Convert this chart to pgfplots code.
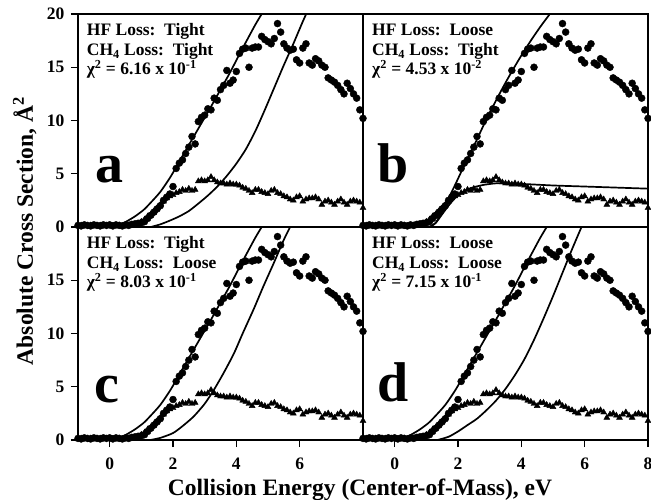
\documentclass[border=0pt]{standalone}
\usepackage{fontspec}
\setmainfont{Liberation Serif}
\usepackage{pgfplots}
\pgfplotsset{compat=1.18}
\usepackage{pgfplotstable}
\usepgfplotslibrary{groupplots}
\usetikzlibrary{calc}

% experimental cross sections (same in all four panels)
\pgfplotstableread{
E s
-1.0 0.15
-0.9 0.1
-0.8 0.2
-0.7 0.15
-0.6 0.1
-0.5 0.2
-0.4 0.15
-0.3 0.1
-0.2 0.2
-0.1 0.15
0.0 0.2
0.1 0.1
0.2 0.2
0.3 0.15
0.4 0.1
0.5 0.2
0.6 0.15
0.7 0.25
0.8 0.3
0.9 0.35
1.0 0.4
1.1 0.5
1.2 0.8
1.3 1.1
1.4 1.4
1.5 1.7
1.6 2.0
1.7 2.5
1.8 2.8
1.9 3.1
2.0 3.8
2.1 5.5
2.2 6.0
2.3 6.3
2.4 6.9
2.5 7.5
2.6 8.5
2.7 7.8
2.8 9.9
2.9 10.3
3.0 10.5
3.1 11.1
3.2 11.0
3.3 12.1
3.4 11.9
3.5 12.9
3.6 13.3
3.7 14.7
3.8 13.5
3.9 13.8
4.0 14.6
4.1 16.3
4.2 16.7
4.3 16.8
4.4 15.0
4.5 16.8
4.6 16.9
4.7 16.9
4.8 17.9
4.9 17.6
5.0 17.4
5.1 17.2
5.2 17.7
5.3 19.1
5.4 18.3
5.5 17.2
5.6 16.8
5.7 16.6
5.8 16.7
5.9 15.7
6.0 15.4
6.1 16.8
6.2 17.2
6.3 15.4
6.4 15.2
6.5 15.8
6.6 15.6
6.7 15.2
6.8 15.0
6.9 14.0
7.0 13.8
7.1 13.6
7.2 13.3
7.3 12.9
7.4 12.5
7.5 13.5
7.6 13.0
7.7 12.5
7.8 12.1
7.9 11.0
8.0 10.2
}\hfloss

\pgfplotstableread{
E s
-1.0 0.1
-0.9 0.15
-0.8 0.1
-0.7 0.1
-0.6 0.15
-0.5 0.1
-0.4 0.1
-0.3 0.15
-0.2 0.1
-0.1 0.1
0.0 0.15
0.1 0.1
0.2 0.1
0.3 0.15
0.4 0.1
0.5 0.15
0.6 0.1
0.7 0.15
0.8 0.2
0.9 0.3
1.0 0.5
1.1 0.7
1.2 1.0
1.3 1.2
1.4 1.5
1.5 1.8
1.6 2.1
1.7 2.4
1.8 2.7
1.9 2.9
2.0 3.0
2.1 3.2
2.2 3.3
2.3 3.5
2.4 3.4
2.5 3.6
2.6 3.4
2.7 3.5
2.8 4.3
2.9 4.4
3.0 4.3
3.1 4.4
3.2 4.7
3.3 4.4
3.4 4.2
3.5 4.1
3.6 4.1
3.7 4.0
3.8 4.1
3.9 4.0
4.0 4.0
4.1 3.9
4.2 3.7
4.3 3.6
4.4 3.4
4.5 3.2
4.6 3.5
4.7 3.5
4.8 3.3
4.9 3.2
5.0 3.1
5.1 3.4
5.2 3.5
5.3 3.2
5.4 3.1
5.5 2.9
5.6 2.8
5.7 2.6
5.8 2.5
5.9 2.8
6.0 2.9
6.1 2.4
6.2 2.6
6.3 2.7
6.4 2.7
6.5 2.8
6.6 2.6
6.7 2.1
6.8 2.4
6.9 2.5
7.0 2.3
7.1 2.1
7.2 2.4
7.3 2.6
7.4 2.3
7.5 2.1
7.6 2.4
7.7 2.5
7.8 2.4
7.9 2.3
8.0 1.8
}\chfloss

% model curves
\pgfplotstableread{
E s
0.0 0
0.3 0.15
0.55 0.55
0.8 1.0
1.07 1.6
1.3 2.3
1.6 3.3
1.92 4.7
2.23 6.3
2.55 7.95
2.87 9.6
3.2 11.3
3.5 12.9
3.8 14.5
4.13 16.4
4.4 17.9
4.6 19.0
4.82 20.1
}\fitA

\pgfplotstableread{
E s
1.3 0
1.6 0.25
1.9 0.6
2.2 1.0
2.5 1.5
2.8 2.2
3.1 2.95
3.4 3.8
3.7 4.8
4.0 5.95
4.3 7.3
4.6 9.0
4.9 11.0
5.2 13.1
5.5 15.2
5.8 17.2
6.1 19.3
6.3 20.6
}\fitAb

\pgfplotstableread{
E s
1.1 0
1.3 0.4
1.5 1.5
1.7 2.7
1.9 3.9
2.2 5.8
2.5 7.6
2.8 9.5
3.1 11.3
3.4 13.0
3.7 14.6
4.0 16.1
4.3 17.5
4.6 18.8
4.9 20.0
5.0 20.4
}\fitB

\pgfplotstableread{
E s
1.1 0
1.3 0.4
1.5 1.2
1.7 2.0
1.9 2.7
2.1 3.2
2.4 3.65
2.8 3.95
3.2 4.1
3.6 4.1
4.0 4.05
5.0 3.9
6.0 3.8
7.0 3.7
8.0 3.6
}\fitBb

\pgfplotstableread{
E s
1.28 0
1.6 0.2
2.0 0.65
2.3 1.3
2.65 2.2
3.0 3.4
3.29 4.7
3.6 6.3
3.92 8.1
4.2 10.0
4.55 12.3
4.85 14.4
5.18 16.6
5.5 18.8
5.75 20.3
}\fitCb

\pgfplotstableread{
E s
1.35 0
1.7 0.3
2.0 0.8
2.3 1.4
2.6 2.0
2.9 2.8
3.2 3.7
3.5 4.8
3.8 6.1
4.1 7.6
4.4 9.4
4.7 11.4
5.0 13.5
5.3 15.7
5.6 17.9
5.9 20.0
6.0 20.7
}\fitDb

\newcommand\ft{\fontsize{17.5}{19}\selectfont\bfseries}
\newcommand\lf{\fontsize{56}{56}\selectfont\bfseries}

\pgfplotsset{
  dat/.style={only marks, mark=*, mark size=3.5pt, black},
  tri/.style={only marks, mark=triangle*, mark size=3.4pt, black},
  fit/.style={black, line width=1.7pt, smooth, tension=0.4, mark=none},
}

\begin{document}
\begin{tikzpicture}
\begin{groupplot}[
  group style={group size=2 by 2, horizontal sep=0pt, vertical sep=0pt},
  scale only axis, width=285pt, height=213pt,
  xmin=-1, xmax=8, ymin=0, ymax=20,
  axis on top,
  axis line style={line width=2pt},
  tick align=outside, major tick length=7pt,
  tick style={line width=1.3pt, black},
  /pgf/number format/assume math mode=true,
  ticklabel style={font=\fontsize{17.5}{17.5}\selectfont\bfseries},
  xticklabel style={yshift=-7pt},
  yticklabel style={xshift=-3pt},
  every node/.append style={inner sep=0pt},
]
% a
\nextgroupplot[xtick=\empty, ytick={0,5,10,15,20}, ytick pos=left]
\addplot[dat] table {\hfloss};
\addplot[tri] table {\chfloss};
\addplot[fit] table {\fitA};
\addplot[fit] table {\fitAb};
\node[anchor=base west, font=\ft] at (axis cs:-0.83,17.95) {HF Loss:\ \ Tight};
\node[anchor=base west, font=\ft] at (axis cs:-0.83,16.1) {CH\textsubscript{4} Loss:\ \ Tight};
\node[anchor=base west, font=\ft] at (axis cs:-0.83,14.3) {χ\textsuperscript{2} = 6.16 x 10\textsuperscript{-1}};
\node[anchor=base west, font=\lf] at (axis cs:-0.56,4.2) {a};
% b
\nextgroupplot[xtick=\empty, ytick=\empty]
\addplot[dat] table {\hfloss};
\addplot[tri] table {\chfloss};
\addplot[fit] table {\fitB};
\addplot[fit] table {\fitBb};
\node[anchor=base west, font=\ft] at (axis cs:-0.82,17.95) {HF Loss:\ \ Loose};
\node[anchor=base west, font=\ft] at (axis cs:-0.82,16.1) {CH\textsubscript{4} Loss:\ \ Tight};
\node[anchor=base west, font=\ft] at (axis cs:-0.82,14.3) {χ\textsuperscript{2} = 4.53 x 10\textsuperscript{-2}};
\node[anchor=base west, font=\lf] at (axis cs:-0.64,4.2) {b};
% c
\nextgroupplot[xtick={0,2,4,6}, xtick pos=bottom, ytick={0,5,10,15}, ytick pos=left]
\addplot[dat] table {\hfloss};
\addplot[tri] table {\chfloss};
\addplot[fit] table {\fitA};
\addplot[fit] table {\fitCb};
\node[anchor=base west, font=\ft] at (axis cs:-0.83,17.95) {HF Loss:\ \ Tight};
\node[anchor=base west, font=\ft] at (axis cs:-0.83,16.1) {CH\textsubscript{4} Loss:\ \ Loose};
\node[anchor=base west, font=\ft] at (axis cs:-0.83,14.3) {χ\textsuperscript{2} = 8.03 x 10\textsuperscript{-1}};
\node[anchor=base west, font=\lf] at (axis cs:-0.59,3.55) {c};
% d
\nextgroupplot[xtick={0,2,4,6,8}, xtick pos=bottom, ytick=\empty]
\addplot[dat] table {\hfloss};
\addplot[tri] table {\chfloss};
\addplot[fit] table {\fitA};
\addplot[fit] table {\fitDb};
\node[anchor=base west, font=\ft] at (axis cs:-0.82,17.95) {HF Loss:\ \ Loose};
\node[anchor=base west, font=\ft] at (axis cs:-0.82,16.1) {CH\textsubscript{4} Loss:\ \ Loose};
\node[anchor=base west, font=\ft] at (axis cs:-0.82,14.3) {χ\textsuperscript{2} = 7.15 x 10\textsuperscript{-1}};
\node[anchor=base west, font=\lf] at (axis cs:-0.64,3.6) {d};
\end{groupplot}
% axis titles, placed in image pixels relative to the top left panel corner (78,14)
\coordinate (O) at (group c1r1.north west);
\node[rotate=90, anchor=base, inner sep=0pt, font=\fontsize{23.5}{24}\selectfont\bfseries]
  at ($(O)+(-45pt,-217pt)$) {Absolute Cross Section, Å\textsuperscript{2}};
\node[anchor=base, inner sep=0pt, font=\fontsize{23.5}{24}\selectfont\bfseries]
  at ($(O)+(282pt,-481pt)$) {Collision Energy (Center-of-Mass), eV};
\pgfresetboundingbox
\path[use as bounding box] ($(O)+(-78pt,14pt)$) rectangle ($(group c2r2.south east)+(3pt,-60pt)$);
\end{tikzpicture}
\end{document}
